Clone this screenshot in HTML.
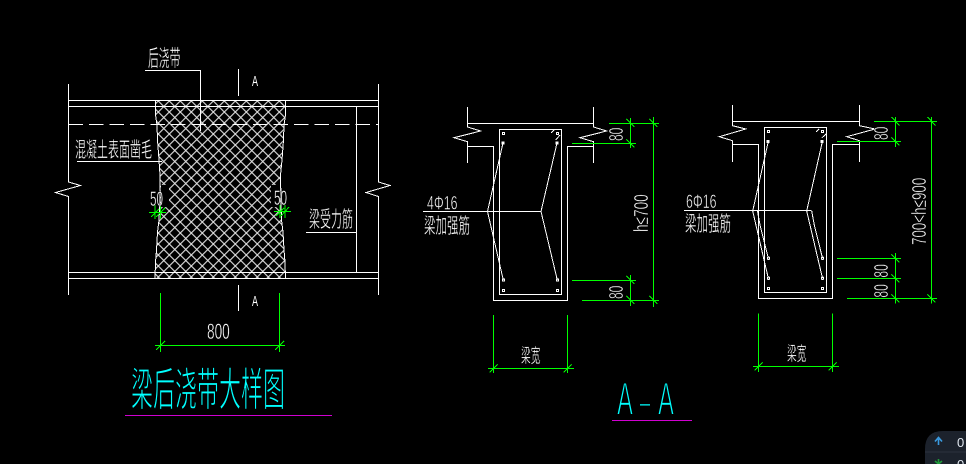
<!DOCTYPE html>
<html><head><meta charset="utf-8"><style>
html,body{margin:0;padding:0;background:#000;width:966px;height:464px;overflow:hidden}
svg{display:block}
text{font-family:"Liberation Sans","Noto Sans CJK SC",sans-serif;fill:#fff}
.c{font-family:"Noto Sans CJK SC","WenQuanYi Zen Hei",sans-serif;stroke:#000;stroke-width:.35}
.t{stroke:#000;stroke-width:1}
.a{stroke:#000;stroke-width:1.6}
.n{stroke:#000;stroke-width:.45}
</style></head><body>
<svg width="966" height="464" viewBox="0 0 966 464" xmlns="http://www.w3.org/2000/svg">
<defs>
<pattern id="h" width="11" height="11" patternUnits="userSpaceOnUse" x="4.3" y="2">
<path d="M0 0L11 11M11 0L0 11" stroke="#e4e4e4" stroke-width="1.1" fill="none"/>
</pattern>
<clipPath id="band"><path d="M155.5 100L155.5 115L157 125L157.5 140L159 160L160 175L159 220L157.5 232L156.5 250L155.5 262L155 278L285.5 278L285 262L284 250L283 232L281.5 220L280.5 175L281.5 160L283 140L283.5 125L285 115L285.5 100Z"/></clipPath>
</defs>
<rect width="966" height="464" fill="#000"/>

<!-- hatch band -->
<rect x="150" y="100" width="140" height="179" fill="url(#h)" clip-path="url(#band)"/>
<rect x="161" y="185" width="8" height="22" fill="#000"/>
<rect x="271" y="185" width="9" height="22" fill="#000"/>

<g fill="none" stroke="#fff" stroke-width="1" shape-rendering="crispEdges">
<!-- left elevation -->
<path d="M68.5 84V182L80.5 185.5L55.5 192.5L68.5 196.5V295"/>
<path d="M378.5 84V182L390 185.5L366 192.5L378.5 196.5V295"/>
<path d="M68 100.5H379M68 106.5H379M68 272.5H379M68 278.5H379"/>
<path d="M68.5 124.5H378.5" stroke-dasharray="14.5 6"/>
<path d="M155.5 100V115L157 125L157.5 140L159 160L160 175L160 200L159 220L157.5 232L156.5 250L155.5 262L155 278"/>
<path d="M285.5 100V115L284 125L283.5 140L282 160L280.5 175L281 200L281.5 220L283 232L284 250L285 262L285.5 278"/>
<path d="M145 70.5H200.5V131"/>
<path d="M238.5 69V96M238.5 285V311"/>
<path d="M77 161.5H162"/>
<path d="M306 232.5H356.5M356.5 106V272"/>

<!-- section 1 -->
<path d="M467.5 107V127L480.7 131L454 137.7L467.5 141.7V163"/>
<path d="M593.5 107V127L606.7 131L580 137.7L593.5 141.7V163"/>
<path d="M467.5 123.5H593.5"/>
<path d="M467.5 146.5H493.5V300.5H567.5V146.5H593.5"/>
<rect x="499.5" y="129.5" width="62" height="165"/>
<path d="M503 143L487.5 211.5L503.3 280"/>
<path d="M557 143L541 211.5L557.3 280"/>
<path d="M423 211.5H541"/>
<path d="M551 133L554 130M555.7 140L560 135"/>
<circle cx="503.5" cy="133.5" r="1.2"/><circle cx="557.5" cy="133.5" r="1.2"/>
<circle cx="503.5" cy="280" r="1.2"/><circle cx="557.5" cy="280" r="1.2"/>
<circle cx="503.5" cy="290.5" r="1.2"/><circle cx="557.5" cy="290.5" r="1.2"/>

<!-- section 2 -->
<path d="M732.5 105V125.7L745.7 129L719.3 136.7L732.5 140.7V162"/>
<path d="M859.5 105V125.7L875 129L846.7 136.7L859.5 140.7V162"/>
<path d="M732.5 121.5H859.5"/>
<path d="M732.5 144.5H758.5V298.5H832.5V144.5H859.5"/>
<rect x="764.5" y="127.5" width="62" height="165"/>
<path d="M768.3 141.5L752.7 211L768.3 278.3"/>
<path d="M757.3 210L760 225L768.3 258.3"/>
<path d="M822.5 141L806.7 211L822.5 278.3"/>
<path d="M811.7 211L814.3 225L822.5 258.3"/>
<path d="M684 210.5H811.7"/>
<path d="M816 132L819 129M821.7 138L826 134"/>
<circle cx="768.5" cy="131.5" r="1.2"/><circle cx="822.5" cy="131.5" r="1.2"/>
<circle cx="768.5" cy="258.3" r="1.2"/><circle cx="822.5" cy="258.3" r="1.2"/>
<circle cx="768.5" cy="278.3" r="1.2"/><circle cx="822.5" cy="278.3" r="1.2"/>
<circle cx="768.5" cy="288.5" r="1.2"/><circle cx="822.5" cy="288.5" r="1.2"/>
</g>
<g fill="#fff">
<rect x="501.5" y="141.5" width="3" height="3"/><rect x="555.5" y="141.5" width="3" height="3"/>
<rect x="766.5" y="140" width="3" height="3"/><rect x="820.5" y="140" width="3" height="3"/>
</g>

<!-- green dims -->
<g fill="none" stroke="#0f0" stroke-width="1" shape-rendering="crispEdges">
<path d="M160.5 293V352M279.5 293V352M155 345.5H285"/>
<path d="M156 350L165 341M275 350L284 341"/>
<path d="M155 205V219M160.5 205V219M149 212.5H166M280 205V218M285 205V218M274 211.5H291"/>
<path d="M151 217L159 209M156 217L165 208M276 216L284 208M281 216L289 207"/>

<path d="M609 123.5H659M572 143.5H636M572 280.5H636M582 300.5H659"/>
<path d="M630.5 118V148M630.5 275V306M653.5 117V307"/>
<path d="M493.5 315V373M567.5 315V373M488 368.5H574"/>
<path d="M626.5 119L634.5 127M626.5 139.5L634.5 147.5M626.5 276L634.5 284M626.5 296L634.5 304M649.5 119L657.5 127M649.5 296L657.5 304"/>
<path d="M489.5 372.5L497.5 364.5M563.5 372.5L571.5 364.5"/>

<path d="M874 121.5H937M837 141.5H901M837 258.5H901M837 278.5H901M847 298.5H937"/>
<path d="M895.5 117V147M895.5 253V303.5M931.5 117V303.5"/>
<path d="M758.5 313.5V372M832.5 313.5V372M753 366.5H839"/>
<path d="M891.5 117L899.5 125.5M891.5 137.5L899.5 145.5M891.5 254.5L899.5 262.5M891.5 274.5L899.5 282.5M891.5 294.5L899.5 302.5M927.5 117L935.5 125.5M927.5 294.5L935.5 302.5"/>
<path d="M754.5 370.5L762.5 362.5M828.5 370.5L836.5 362.5"/>
</g>

<!-- magenta underlines -->
<path d="M125 415.5H332M612 420.5H692" stroke="#d000d0" stroke-width="1" fill="none" shape-rendering="crispEdges"/>

<!-- left labels -->
<text class="c" font-size="20" transform="translate(148,66) scale(.54,1.15)">后浇带</text>
<text class="c" font-size="20" transform="translate(75,157) scale(.55,1.05)">混凝土表面凿毛</text>
<text class="c" font-size="20" transform="translate(309,227) scale(.55,1.1)">梁受力筋</text>
<text font-size="15" transform="translate(252,86) scale(.6,1)">A</text>
<text font-size="15" transform="translate(252,306) scale(.6,1)">A</text>
<text class="n" font-size="21" transform="translate(150,206) scale(.56,1)">50</text>
<text class="n" font-size="21" transform="translate(274,205) scale(.56,1)">50</text>
<text class="n" font-size="22" transform="translate(207,339) scale(.62,1)">800</text>
<text class="c t" font-size="40" style="fill:#0ff" transform="translate(131,405.5) scale(.55,1.13)">梁后浇带大样图</text>

<!-- section 1 labels -->
<text class="n" font-size="19" transform="translate(427,209.5) scale(.65,1)">4Φ16</text>
<text class="c" font-size="20" transform="translate(424,233) scale(.575,1.05)">梁加强筋</text>
<text class="n" font-size="20" transform="translate(623,141) rotate(-90) scale(.6,1)">80</text>
<text class="n" font-size="20" transform="translate(623,299) rotate(-90) scale(.6,1)">80</text>
<text class="n" font-size="20" transform="translate(648,232) rotate(-90) scale(.68,1)">h≤700</text>
<text class="c" font-size="18" transform="translate(521,362) scale(.54,1.05)">梁宽</text>
<text class="a" font-size="46" style="fill:#0ff" transform="translate(617,415) scale(.52,1)">A</text>
<text font-size="18" style="fill:#0ff" transform="translate(640,409.4)">–</text>
<text class="a" font-size="46" style="fill:#0ff" transform="translate(658,415) scale(.52,1)">A</text>

<!-- section 2 labels -->
<text class="n" font-size="19" transform="translate(686,208) scale(.65,1)">6Φ16</text>
<text class="c" font-size="20" transform="translate(685,231) scale(.575,1.05)">梁加强筋</text>
<text class="n" font-size="20" transform="translate(888,140) rotate(-90) scale(.6,1)">80</text>
<text class="n" font-size="20" transform="translate(888,277.6) rotate(-90) scale(.6,1)">80</text>
<text class="n" font-size="20" transform="translate(888,297.6) rotate(-90) scale(.6,1)">80</text>
<text class="n" font-size="20" transform="translate(926,245) rotate(-90) scale(.67,1)">700&lt;h≤900</text>
<text class="c" font-size="18" transform="translate(787,360) scale(.54,1.05)">梁宽</text>

<!-- corner badge -->
<path d="M966 431H943Q925 431 925 449V464H966Z" fill="#1c222c"/>
<path d="M925 452H966" stroke="#2c333e" stroke-width="1"/>
<path d="M938.5 445V439M935 441.5L938.5 437.5L942 441.5" stroke="#3a9be0" stroke-width="1.6" fill="none"/>
<path d="M938.5 459V464M935 461L938.5 464L942 461" stroke="#1f9a3a" stroke-width="1.6" fill="none"/>
<text font-size="13" style="fill:#dfe6ee" x="957" y="447">0</text>
<text font-size="13" style="fill:#dfe6ee" x="957" y="469">0</text>
</svg>
</body></html>
